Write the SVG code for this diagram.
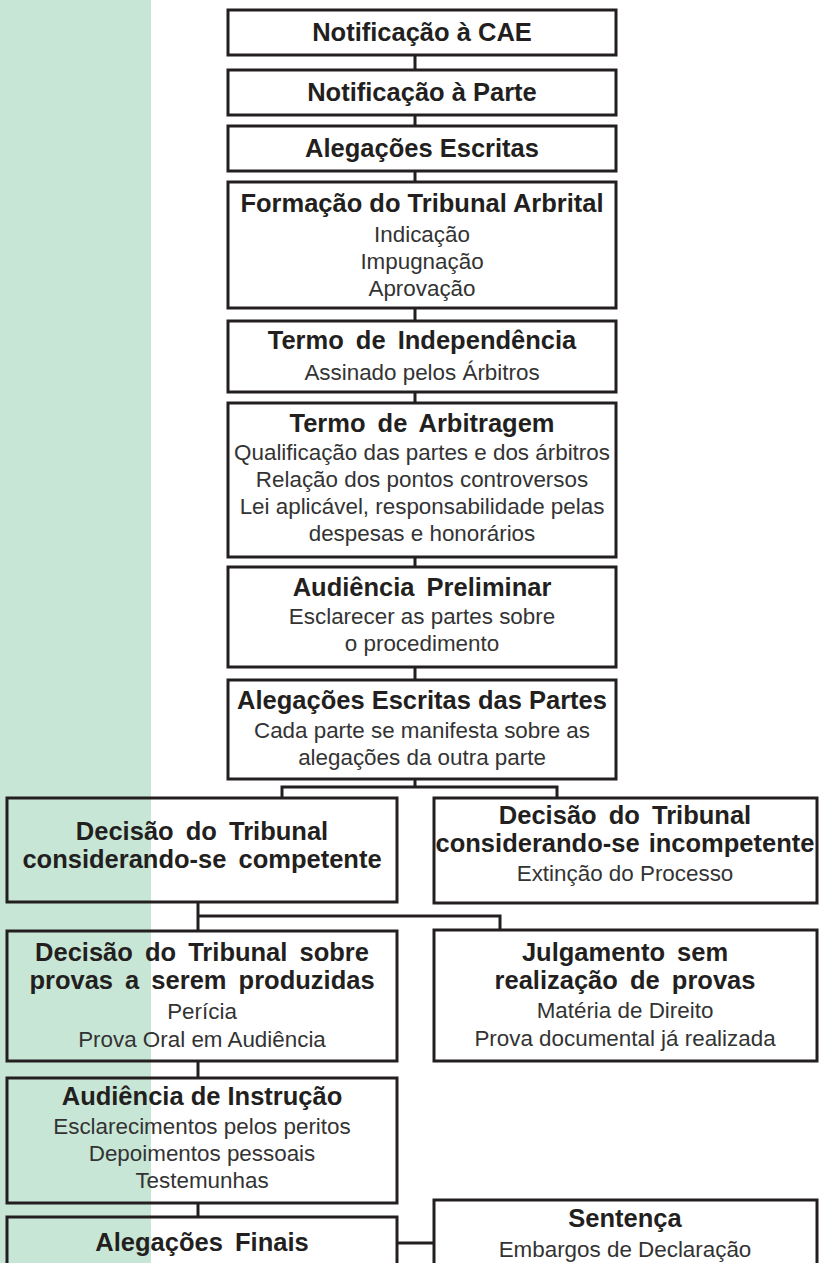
<svg xmlns="http://www.w3.org/2000/svg" width="819" height="1263" viewBox="0 0 819 1263">
<style>
.box{fill:none;stroke:#231f20;stroke-width:3}
.c{fill:none;stroke:#231f20;stroke-width:3}
.t{font-family:"Liberation Sans",Arial,sans-serif;font-weight:bold;font-size:25.5px;fill:#231f20;text-anchor:middle}
.s{font-family:"Liberation Sans",Arial,sans-serif;font-size:22.4px;fill:#333333;text-anchor:middle}
.w{word-spacing:5px}
</style>
<rect x="0" y="0" width="819" height="1263" fill="#ffffff"/>
<rect x="0" y="0" width="151" height="1263" fill="#c8e6d6"/>
<g id="connectors">
<path class="c" d="M415 55V70M415 115V126M415 171V182M415 308V321M415 392V403M415 557V567M415 667V680M415 779V787M282 798V787H557V798M198 902V931M198 916H500V930M198 1061V1078M198 1203V1217M397 1243H434"/>
</g>
<g id="n1"><rect class="box" x="228" y="10" width="388" height="45"/><text class="t" x="422" y="41">Notificação à CAE</text></g>
<g id="n2"><rect class="box" x="228" y="70" width="388" height="45"/><text class="t" x="422" y="101">Notificação à Parte</text></g>
<g id="n3"><rect class="box" x="228" y="126" width="388" height="45"/><text class="t" x="422" y="157">Alegações Escritas</text></g>
<g id="n4"><rect class="box" x="228" y="182" width="388" height="126"/><text class="t" x="422" y="212">Formação do Tribunal Arbrital</text><text class="s" x="422" y="242">Indicação</text><text class="s" x="422" y="269">Impugnação</text><text class="s" x="422" y="296">Aprovação</text></g>
<g id="n5"><rect class="box" x="228" y="321" width="388" height="71"/><text class="t w" x="422" y="349">Termo de Independência</text><text class="s" x="422" y="380">Assinado pelos Árbitros</text></g>
<g id="n6"><rect class="box" x="228" y="403" width="388" height="154"/><text class="t w" x="422" y="432">Termo de Arbitragem</text><text class="s" x="422" y="460">Qualificação das partes e dos árbitros</text><text class="s" x="422" y="487">Relação dos pontos controversos</text><text class="s" x="422" y="514">Lei aplicável, responsabilidade pelas</text><text class="s" x="422" y="541">despesas e honorários</text></g>
<g id="n7"><rect class="box" x="228" y="567" width="388" height="100"/><text class="t w" x="422" y="596">Audiência Preliminar</text><text class="s" x="422" y="624">Esclarecer as partes sobre</text><text class="s" x="422" y="651">o procedimento</text></g>
<g id="n8"><rect class="box" x="228" y="680" width="388" height="99"/><text class="t" x="422" y="709">Alegações Escritas das Partes</text><text class="s" x="422" y="738">Cada parte se manifesta sobre as</text><text class="s" x="422" y="765">alegações da outra parte</text></g>
<g id="n9"><rect class="box" x="7" y="798" width="390" height="104"/><text class="t w" x="202" y="840">Decisão do Tribunal</text><text class="t w" x="202" y="868">considerando-se competente</text></g>
<g id="n10"><rect class="box" x="434" y="798" width="383" height="105"/><text class="t w" x="625" y="824">Decisão do Tribunal</text><text class="t" x="625" y="852" style="word-spacing:2px">considerando-se incompetente</text><text class="s" x="625" y="881">Extinção do Processo</text></g>
<g id="n11"><rect class="box" x="7" y="931" width="390" height="130"/><text class="t w" x="202" y="961">Decisão do Tribunal sobre</text><text class="t w" x="202" y="989">provas a serem produzidas</text><text class="s" x="202" y="1019">Perícia</text><text class="s" x="202" y="1047">Prova Oral em Audiência</text></g>
<g id="n12"><rect class="box" x="434" y="930" width="383" height="131"/><text class="t w" x="625" y="961">Julgamento sem</text><text class="t w" x="625" y="989">realização de provas</text><text class="s" x="625" y="1018">Matéria de Direito</text><text class="s" x="625" y="1046">Prova documental já realizada</text></g>
<g id="n13"><rect class="box" x="7" y="1078" width="390" height="125"/><text class="t" x="202" y="1105">Audiência de Instrução</text><text class="s" x="202" y="1134">Esclarecimentos pelos peritos</text><text class="s" x="202" y="1161">Depoimentos pessoais</text><text class="s" x="202" y="1188">Testemunhas</text></g>
<g id="n14"><rect class="box" x="7" y="1217" width="390" height="60"/><text class="t w" x="202" y="1251">Alegações Finais</text></g>
<g id="n15"><rect class="box" x="434" y="1200" width="383" height="80"/><text class="t" x="625" y="1227">Sentença</text><text class="s" x="625" y="1257">Embargos de Declaração</text></g>
</svg>
